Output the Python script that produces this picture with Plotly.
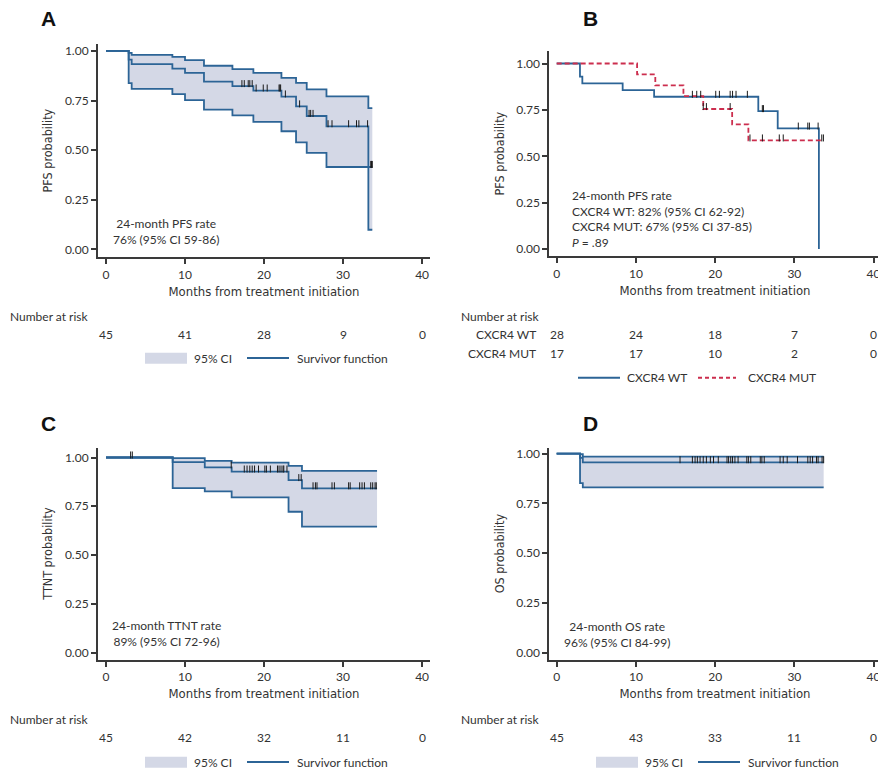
import numpy as np
import plotly.graph_objects as go

W, H = 886, 774
OFF = 8  # the page body adds an 8px margin, so positions are shifted back by it

BLUE = "#2c6496"
RED = "#cc2e4e"
FILL = "#d4d8e6"
AXC = "#3a3a3a"
TXT = "#333333"
BASEFONT = "Lato, Open Sans, sans-serif"
NARROW = "DejaVu Sans Condensed, Liberation Sans Narrow, sans-serif"

# ---- panel A: PFS (all patients) ----
a_t = [0, 2.87, 3.25, 8.4, 10.0, 12.4, 16.0, 18.65, 22.2, 24.05, 25.4, 27.9, 33.2, 33.7]
a_surv = [1.0, 0.956, 0.933, 0.911, 0.889, 0.845, 0.822, 0.80, 0.77, 0.72, 0.672, 0.62, 0.415, 0.415]
a_up = [1.0, 0.99, 0.98, 0.97, 0.953, 0.925, 0.908, 0.889, 0.864, 0.839, 0.806, 0.771, 0.712, 0.712]
a_lo = [1.0, 0.838, 0.809, 0.782, 0.752, 0.704, 0.675, 0.642, 0.595, 0.539, 0.486, 0.415, 0.099, 0.099]
a_cens = [17.2, 17.5, 18.0, 18.2, 18.5, 19.0, 19.9, 20.4, 21.9, 22.0, 22.1, 22.7, 24.5,
          25.7, 25.9, 26.2, 28.1, 28.6, 30.7, 31.7, 32.0, 33.1, 33.5, 33.6, 33.7]
a_risk = [45, 41, 28, 9, 0]

# ---- panel B: PFS by CXCR4 status ----
wt_t = [0, 2.94, 3.24, 8.33, 12.3, 25.45, 27.9, 33.1]
wt_surv = [1.0, 0.929, 0.893, 0.857, 0.821, 0.744, 0.65, 0.0]
wt_cens = [17.13, 17.68, 18.18, 20.08, 20.54, 21.9, 22.2, 22.64, 24.07, 25.96, 26.1,
           30.5, 31.7, 31.9, 33.0]
mut_t = [0, 10.15, 12.45, 16.0, 18.5, 22.15, 24.2, 33.7]
mut_surv = [1.0, 0.941, 0.882, 0.824, 0.755, 0.672, 0.586, 0.586]
mut_cens = [18.5, 18.9, 21.9, 24.4, 25.97, 28.1, 28.6, 33.46, 33.67]
wt_risk = [28, 24, 18, 7, 0]
mut_risk = [17, 17, 10, 2, 0]

# ---- panel C: TTNT ----
c_t = [0, 8.44, 12.5, 15.9, 23.1, 24.8, 34.3]
c_surv = [1.0, 0.976, 0.949, 0.928, 0.884, 0.842, 0.842]
c_up = [1.0, 0.997, 0.983, 0.974, 0.957, 0.932, 0.932]
c_lo = [1.0, 0.843, 0.826, 0.796, 0.722, 0.646, 0.646]
c_cens = [3.12, 3.33, 15.85, 17.5, 17.85, 18.2, 18.5, 18.8, 19.3, 20.1, 20.3, 20.8, 21.7,
          21.9, 22.15, 22.4, 22.5, 22.9, 24.4, 24.7, 26.2, 26.5, 26.7, 28.6, 28.9, 30.7,
          30.9, 32.1, 32.4, 32.7, 33.5, 33.75, 34.05, 34.2]
c_risk = [45, 42, 32, 11, 0]

# ---- panel D: OS ----
d_t = [0, 2.95, 3.3, 33.7]
d_surv = [1.0, 0.978, 0.956, 0.956]
d_up = [1.0, 0.997, 0.985, 0.985]
d_lo = [1.0, 0.851, 0.83, 0.83]
d_cens = [15.57, 17.13, 17.47, 17.76, 18.1, 18.5, 18.9, 19.4, 19.8, 20.4, 21.5, 21.7, 21.97,
          22.2, 22.5, 22.9, 24.0, 24.2, 24.5, 25.7, 25.9, 26.2, 28.2, 28.6, 29.1, 30.4,
          31.7, 32.0, 32.3, 32.8, 33.0, 33.5, 33.7]
d_risk = [45, 43, 33, 11, 0]

risk_months = [0, 10, 20, 30, 40]


def px(x):
    return (x - OFF) / W


def py(y):
    return 1 - (y - OFF) / H


def step_at(t, vals, x):
    i = np.searchsorted(t, x, side="right") - 1
    return vals[i]


def add_line(fig, t, p, xa, ya, color=BLUE, dash="solid"):
    fig.add_trace(go.Scatter(x=t, y=p, mode="lines", xaxis=xa, yaxis=ya,
                             line=dict(color=color, width=1.8, shape="hv", dash=dash),
                             showlegend=False, hoverinfo="skip"))


def add_cens(fig, t, p, cens, xa, ya):
    ys = [step_at(t, p, c) + 0.013 for c in cens]
    fig.add_trace(go.Scatter(x=cens, y=ys, mode="markers", xaxis=xa, yaxis=ya,
                             marker=dict(symbol="line-ns", size=5,
                                         line=dict(width=1, color="#1a1a1a")),
                             showlegend=False, hoverinfo="skip"))


def add_ci_panel(fig, t, surv, up, lo, cens, xa, ya):
    fig.add_trace(go.Scatter(x=t, y=up, mode="lines", xaxis=xa, yaxis=ya,
                             line=dict(width=0, shape="hv"), showlegend=False,
                             hoverinfo="skip"))
    fig.add_trace(go.Scatter(x=t, y=lo, mode="lines", xaxis=xa, yaxis=ya,
                             line=dict(width=0, shape="hv"), fill="tonexty",
                             fillcolor=FILL, showlegend=False, hoverinfo="skip"))
    add_line(fig, t, up, xa, ya)
    add_line(fig, t, lo, xa, ya)
    add_line(fig, t, surv, xa, ya)
    add_cens(fig, t, surv, cens, xa, ya)


fig = go.Figure()
add_ci_panel(fig, a_t, a_surv, a_up, a_lo, a_cens, "x", "y")
add_line(fig, wt_t, wt_surv, "x2", "y2")
add_line(fig, mut_t, mut_surv, "x2", "y2", color=RED, dash="5px,3px")
add_cens(fig, wt_t, wt_surv, wt_cens, "x2", "y2")
add_cens(fig, mut_t, mut_surv, mut_cens, "x2", "y2")
add_ci_panel(fig, c_t, c_surv, c_up, c_lo, c_cens, "x3", "y3")
add_ci_panel(fig, d_t, d_surv, d_up, d_lo, d_cens, "x4", "y4")

# panel geometry in pixels: (left, right, top, bottom), x range, y range
panels = {
    "1": dict(l=98, r=430, t=42, b=256, xr=[-1.01, 41.0], yr=[-0.040, 1.035], ytitle="PFS probability"),
    "2": dict(l=549.3, r=880.7, t=49, b=255, xr=[-0.93, 40.9], yr=[-0.039, 1.068], ytitle="PFS probability"),
    "3": dict(l=98, r=430, t=446.7, b=659.3, xr=[-1.01, 41.0], yr=[-0.036, 1.051], ytitle="TTNT probability"),
    "4": dict(l=549.3, r=880.7, t=446.7, b=659.3, xr=[-0.93, 40.9], yr=[-0.035, 1.030], ytitle="OS probability"),
}

axis_common = dict(showline=True, linewidth=2, linecolor=AXC, ticks="outside", ticklen=5,
                   tickwidth=1.5, tickcolor=AXC, showgrid=False, zeroline=False,
                   tickfont=dict(family=BASEFONT, size=12, color=TXT))

layout_axes = {}
for k, p in panels.items():
    xn = "xaxis" if k == "1" else "xaxis" + k
    yn = "yaxis" if k == "1" else "yaxis" + k
    yid = "y" if k == "1" else "y" + k
    xid = "x" if k == "1" else "x" + k
    layout_axes[xn] = dict(axis_common, domain=[px(p["l"]), px(p["r"])], range=p["xr"],
                           tickvals=risk_months, anchor=yid,
                           title=dict(text="Months from treatment initiation", standoff=6,
                                      font=dict(family=NARROW, size=13, color=TXT)))
    layout_axes[yn] = dict(axis_common, domain=[py(p["b"]), py(p["t"])], range=p["yr"],
                           tickvals=[0, 0.25, 0.5, 0.75, 1.0], tickformat=".2f", anchor=xid,
                           title=dict(text=p["ytitle"], standoff=9,
                                      font=dict(family=NARROW, size=12.5, color=TXT)))

fig.update_layout(width=W, height=H, margin=dict(l=0, r=0, t=0, b=0),
                  paper_bgcolor="white", plot_bgcolor="white", showlegend=False,
                  font=dict(family=BASEFONT, size=12, color=TXT), **layout_axes)

ann = []


def note(text, x, y, xref="paper", yref="paper", xanchor="center", **kw):
    ann.append(dict(text=text, x=x, y=y, xref=xref, yref=yref, xanchor=xanchor,
                    yanchor="middle", showarrow=False, **kw))


# panel letters
for letter, (lx, ly) in {"A": (48, 17), "B": (590, 17), "C": (48, 423), "D": (590, 423)}.items():
    note("<b>%s</b>" % letter, px(lx), py(ly),
         font=dict(family="Liberation Sans, Arial, sans-serif", size=21, color="#111"))

# rate boxes
note("24-month PFS rate<br>76% (95% CI 59-86)", 7.6, 0.09, "x", "y", align="center")
note("24-month PFS rate<br>CXCR4 WT: 82% (95% CI 62-92)<br>"
     "CXCR4 MUT: 67% (95% CI 37-85)<br><i>P</i> = .89",
     1.68, 0.162, "x2", "y2", xanchor="left", align="left")
note("24-month TTNT rate<br>89% (95% CI 72-96)", 7.6, 0.099, "x3", "y3", align="center")
note("24-month OS rate<br>96% (95% CI 84-99)", 7.6, 0.089, "x4", "y4", align="center")

# number at risk tables
for xid, lab_x, lab_y, rows in [
    ("x", 8, 315, [(333, None, a_risk)]),
    ("x2", 459, 315, [(333, "CXCR4 WT", wt_risk), (352, "CXCR4 MUT", mut_risk)]),
    ("x3", 8, 719, [(737, None, c_risk)]),
    ("x4", 459, 719, [(737, None, d_risk)]),
]:
    note("Number at risk", px(lab_x), py(lab_y), xanchor="left")
    for ry, name, vals in rows:
        if name:
            note(name, px(538), py(ry), xanchor="right")
        for m, v in zip(risk_months, vals):
            note(str(v), m, py(ry), xref=xid)

# legend keys
shapes = []
ci_legends = [(145, 351.7, 362.7, 357), (145, 756.7, 767.7, 762), (596, 756.7, 767.7, 762)]
for lx, t0, b0, cy in ci_legends:
    shapes.append(dict(type="rect", xref="paper", yref="paper", x0=px(lx), x1=px(lx + 42),
                       y0=py(b0), y1=py(t0), fillcolor=FILL, line=dict(width=0)))
    note("95% CI", px(lx + 47), py(cy), xanchor="left")
    shapes.append(dict(type="line", xref="paper", yref="paper", x0=px(lx + 102), x1=px(lx + 144),
                       y0=py(cy), y1=py(cy), line=dict(color=BLUE, width=2)))
    note("Survivor function", px(lx + 150), py(cy), xanchor="left")

shapes.append(dict(type="line", xref="paper", yref="paper", x0=px(578), x1=px(620),
                   y0=py(376.7), y1=py(376.7), line=dict(color=BLUE, width=2)))
note("CXCR4 WT", px(625), py(376.7), xanchor="left")
shapes.append(dict(type="line", xref="paper", yref="paper", x0=px(698), x1=px(736),
                   y0=py(376.7), y1=py(376.7), line=dict(color=RED, width=1.8, dash="4px,3px")))
note("CXCR4 MUT", px(746), py(376.7), xanchor="left")

fig.update_layout(annotations=ann, shapes=shapes)
fig.write_html("out.html")
